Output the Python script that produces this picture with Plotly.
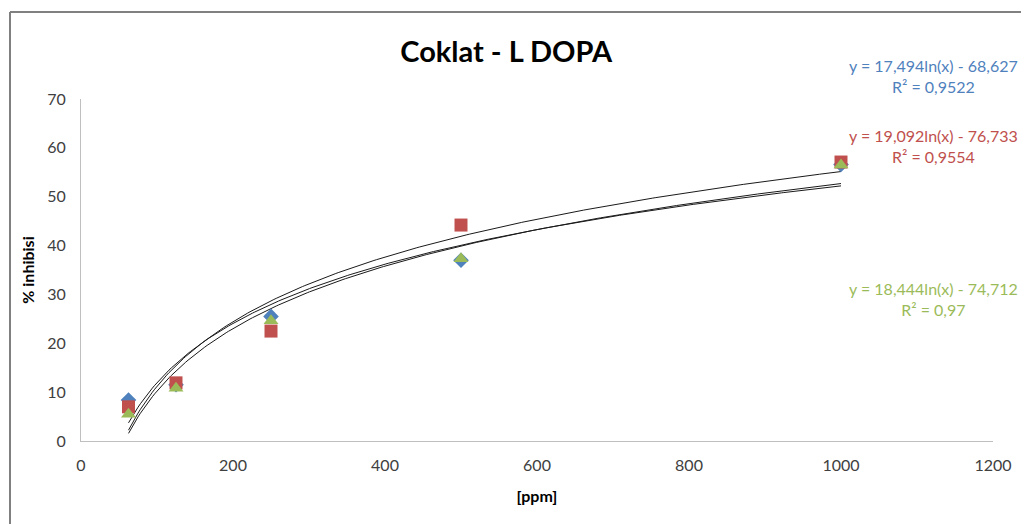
import numpy as np
import plotly.graph_objects as go

x_ppm = [62.5, 125, 250, 500, 1000]
blue_vals = [8.4, 11.5, 25.5, 37.0, 56.6]
red_vals = [7.0, 11.9, 22.5, 44.2, 57.1]
green_vals = [5.5, 10.8, 24.6, 37.3, 56.5]

# trendline coefficients (a*ln(x) + b) as printed on the chart
blue_fit = (17.494, -68.627)
red_fit = (19.092, -76.733)
green_fit = (18.444, -74.712)

eq_texts = [
    ("y = 17,494ln(x) - 68,627<br>R² = 0,9522", "#4F81BD"),
    ("y = 19,092ln(x) - 76,733<br>R² = 0,9554", "#C0504D"),
    ("y = 18,444ln(x) - 74,712<br>R² = 0,97", "#9BBB59"),
]

FONT = "Lato, Carlito, Calibri, sans-serif"

fig = go.Figure()

xs = np.linspace(min(x_ppm), max(x_ppm), 300)
for a, b in [blue_fit, red_fit, green_fit]:
    fig.add_trace(go.Scatter(x=xs, y=a * np.log(xs) + b, mode="lines",
                             line=dict(color="#1a1a1a", width=1), showlegend=False,
                             hoverinfo="skip"))

fig.add_trace(go.Scatter(x=x_ppm, y=blue_vals, mode="markers",
                         marker=dict(symbol="diamond", size=12, color="#4F81BD"), showlegend=False))
fig.add_trace(go.Scatter(x=x_ppm, y=red_vals, mode="markers",
                         marker=dict(symbol="square", size=13, color="#C0504D"), showlegend=False))
fig.add_trace(go.Scatter(x=x_ppm, y=green_vals, mode="markers",
                         marker=dict(symbol="triangle-up", size=13, color="#9BBB59"), showlegend=False))

OFF = 8  # page body margin
W, H = 1029 - OFF, 524 - OFF
L, T = 81 - OFF, 99 - OFF
R = W - (993 - OFF)
B = H - (441 - OFF)
pw, ph = W - L - R, H - T - B

def px(xp):
    return (xp - OFF - L) / pw

def py(yp):
    return (H - B - (yp - OFF)) / ph

fig.update_layout(
    width=W, height=H,
    margin=dict(l=L, r=R, t=T, b=B),
    paper_bgcolor="white", plot_bgcolor="white",
    font=dict(family=FONT, size=16, color="#404040"),
    title=dict(text="<b>Coklat - L DOPA</b>", x=px(526), xanchor="center",
               y=1 - (52 - OFF) / H, yanchor="middle",
               font=dict(family=FONT, size=29, color="black")),
    xaxis=dict(range=[0, 1200], tickvals=[0, 200, 400, 600, 800, 1000, 1200],
               showgrid=False, zeroline=False, showline=True, linecolor="#BFBFBF",
               linewidth=1, ticks="", ticklen=0, ticklabelstandoff=10,
               title=dict(text="<b>[ppm]</b>", font=dict(family=FONT, size=16, color="black"),
                          standoff=17)),
    yaxis=dict(range=[0, 70], tickvals=[0, 10, 20, 30, 40, 50, 60, 70],
               showgrid=False, zeroline=False, showline=True, linecolor="#BFBFBF",
               linewidth=1, ticks="", ticklen=0, ticklabelstandoff=11,
               title=dict(text="<b>% inhibisi</b>", font=dict(family=FONT, size=16, color="black"),
                          standoff=8)),
)

ann_pos = [(64 + 87) / 2, (134 + 158) / 2, (287 + 310) / 2]
for (txt, col), yp in zip(eq_texts, ann_pos):
    fig.add_annotation(x=px(933), y=py(yp), xref="paper", yref="paper",
                       text=txt, showarrow=False, align="center",
                       xanchor="center", yanchor="middle",
                       font=dict(family=FONT, size=16, color=col))

# outer chart border (left and top)
fig.add_shape(type="line", xref="paper", yref="paper",
              x0=px(10), x1=px(10), y0=py(12), y1=py(530),
              line=dict(color="#808080", width=2))
fig.add_shape(type="line", xref="paper", yref="paper",
              x0=px(10), x1=px(1040), y0=py(12), y1=py(12),
              line=dict(color="#808080", width=2))

fig.write_html("out.html")
